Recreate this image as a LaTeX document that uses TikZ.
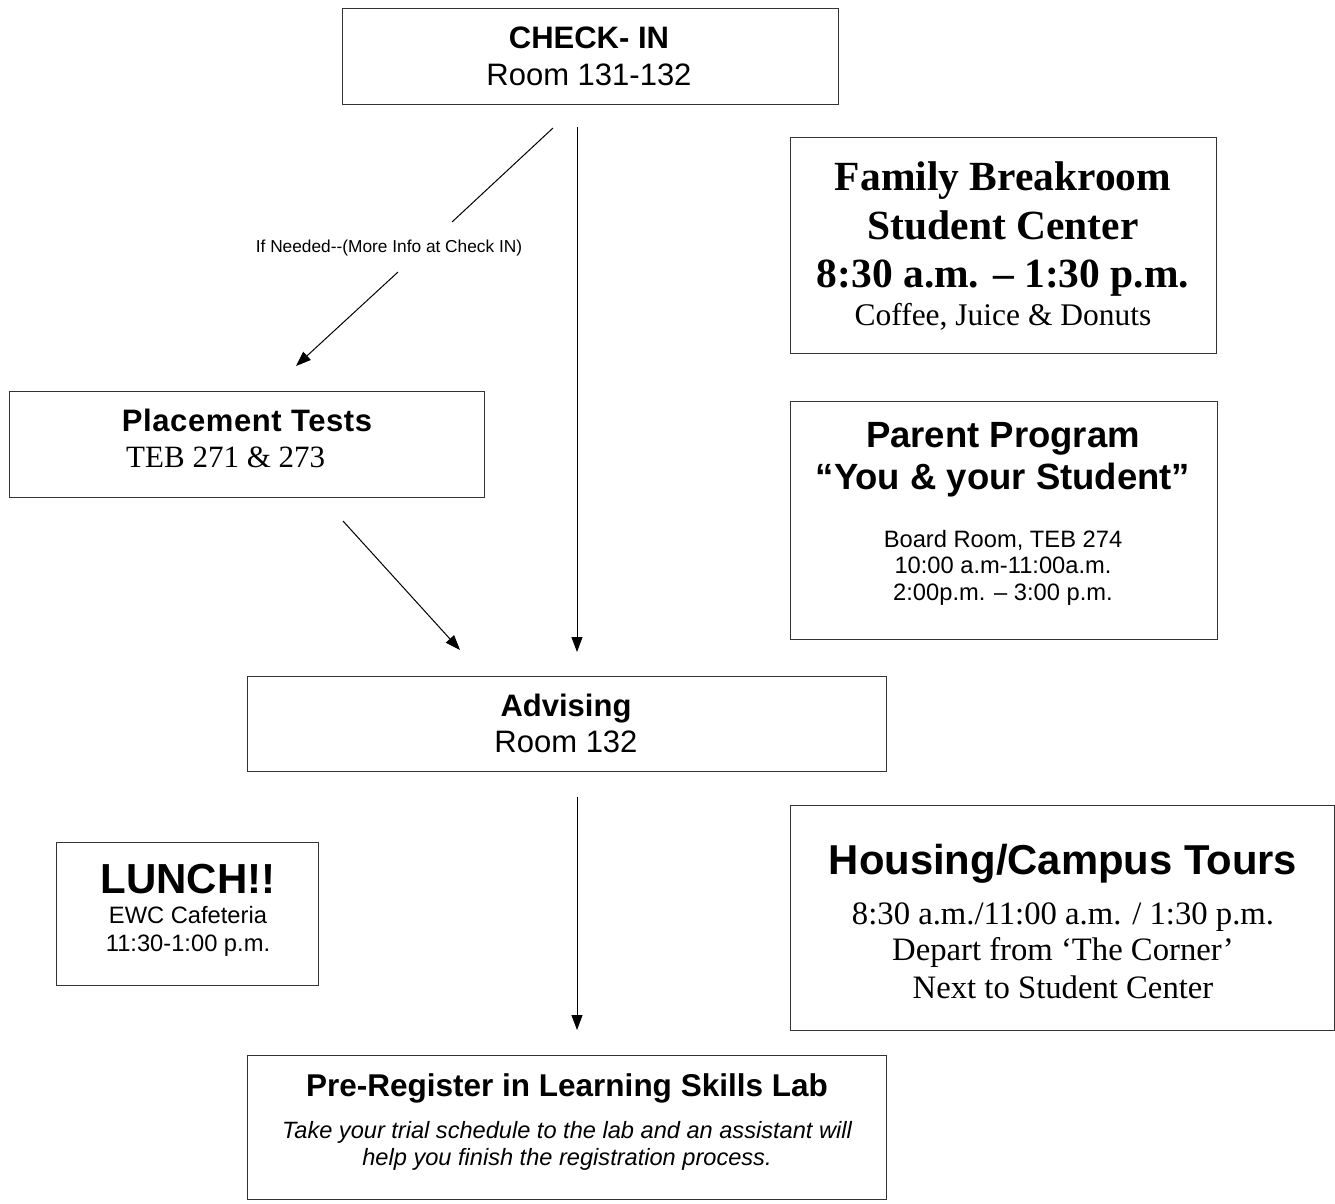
\documentclass[tikz,border=0pt]{standalone}
\usepackage{fontspec}
\setmainfont{Liberation Serif}
\newfontfamily\arial{Liberation Sans}
\usetikzlibrary{arrows.meta}

\newcommand{\fs}[1]{\fontsize{#1}{#1}\selectfont}

\tikzset{
  panel/.style={draw=black!80, line width=1pt, fill=white},
  txt/.style={inner sep=0pt, anchor=base},
  flow/.style={line width=1pt, -{Triangle[length=15pt,width=11pt]}},
  plain/.style={line width=1pt}
}

\begin{document}
\begin{tikzpicture}[x=1pt,y=-1pt]
\useasboundingbox[fill=white] (0,0) rectangle (1335,1203);

% ---- boxes ----
\draw[panel] (342,8)    rectangle (838,104);   % check-in
\draw[panel] (790,137)  rectangle (1216,353);  % family breakroom
\draw[panel] (9,391)    rectangle (484,497);   % placement tests
\draw[panel] (790,401)  rectangle (1217,639);  % parent program
\draw[panel] (247,676)  rectangle (886,771);   % advising
\draw[panel] (56,842)   rectangle (318,985);   % lunch
\draw[panel] (790,805)  rectangle (1334,1030); % housing tours
\draw[panel] (247,1055) rectangle (886,1199);  % pre-register

% ---- check-in ----
\node[txt] (chk) at (589,48) {\arial\bfseries\fs{31}CHECK- IN};
\node[txt] (chkroom) at (589,85) {\arial\fs{31}Room 131-132};

% ---- family breakroom ----
\node[txt] (fam1) at (1003,190) {\bfseries\fs{41.5}Family Breakroom};
\node[txt] (fam2) at (1003,239) {\bfseries\fs{41.5}Student Center};
\node[txt] (fam3) at (1003,287) {\bfseries\fs{41.5}8:30 a.m. – 1:30 p.m.};
\node[txt] (fam4) at (1003,325) {\fs{31.5}Coffee, Juice \& Donuts};

% ---- placement tests ----
\node[txt] (place) at (247,431) {\arial\bfseries\fs{31}\addfontfeature{LetterSpace=2}Placement Tests};
\node[txt, anchor=base west] (placeroom) at (126,467) {\fs{31}TEB 271 \& 273};

% ---- parent program ----
\node[txt] (par1) at (1003,447) {\arial\bfseries\fs{36.5}Parent Program};
\node[txt] (par2) at (1003,489) {\arial\bfseries\fs{36.5}“You \& your Student”};
\node[txt] (par3) at (1003,547) {\arial\fs{23.7}Board Room, TEB 274};
\node[txt] (par4) at (1003,573) {\arial\fs{23.7}10:00 a.m-11:00a.m.};
\node[txt] (par5) at (1003,600) {\arial\fs{23.7}2:00p.m. – 3:00 p.m.};

% ---- advising ----
\node[txt] (adv) at (566,716) {\arial\bfseries\fs{31}Advising};
\node[txt] (advroom) at (566,752) {\arial\fs{31}Room 132};

% ---- lunch ----
\node[txt] (lunch) at (188,893) {\arial\bfseries\fs{42}LUNCH!!};
\node[txt] (lunch2) at (188,923) {\arial\fs{23.7}EWC Cafeteria};
\node[txt] (lunch3) at (188,951) {\arial\fs{23.7}11:30-1:00 p.m.};

% ---- housing / campus tours ----
\node[txt] (tour1) at (1063,874) {\arial\bfseries\fs{41.8}Housing/Campus Tours};
\node[txt] (tour2) at (1063,924) {\fs{32.7}8:30 a.m./11:00 a.m. / 1:30 p.m.};
\node[txt] (tour3) at (1063,960) {\fs{32.7}Depart from ‘The Corner’};
\node[txt] (tour4) at (1063,998) {\fs{32.7}Next to Student Center};

% ---- pre-register ----
\node[txt] (reg) at (567,1096) {\arial\bfseries\fs{31.5}Pre-Register in Learning Skills Lab};
\node[txt] (reg2) at (567,1138) {\arial\itshape\fs{23.6}Take your trial schedule to the lab and an assistant will};
\node[txt] (reg3) at (567,1165) {\arial\itshape\fs{23.6}help you finish the registration process.};

% ---- connector end points ----
\coordinate (c1) at (577,127);
\coordinate (a1) at (577,652);
\coordinate (d0) at (553,128);
\coordinate (d1) at (452,222);
\coordinate (d2) at (398,272);
\coordinate (d3) at (296,366);
\coordinate (p0) at (343,521);
\coordinate (p1) at (460,650);
\coordinate (v0) at (577,797);
\coordinate (v1) at (577,1030);

% ---- connectors ----
\draw[flow] (c1) -- (a1);
\draw[plain] (d0) -- (d1);
\node[txt] (ifneed) at (389,252) {\arial\fs{17.3}If Needed-{}-(More Info at Check IN)};
\draw[flow] (d2) -- (d3);
\draw[flow] (p0) -- (p1);
\draw[flow] (v0) -- (v1);
\end{tikzpicture}
\end{document}
